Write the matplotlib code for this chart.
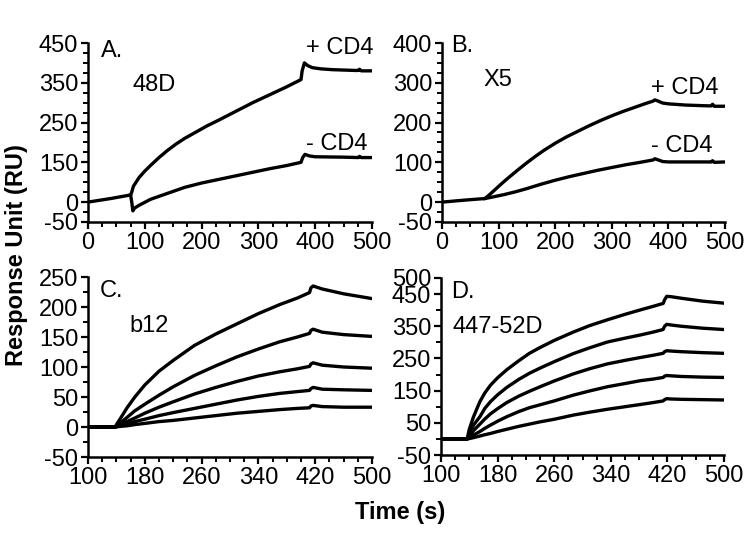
import matplotlib
matplotlib.use("Agg")
import matplotlib.pyplot as plt
from matplotlib.ticker import MultipleLocator

plt.rcParams['font.family'] = ['Liberation Sans', 'DejaVu Sans']
plt.rcParams['axes.unicode_minus'] = False

# Panel A: 48D, time (s) and response (axis units)
a_plus_t = [0, 40, 75, 77, 80, 90, 100, 110, 125, 140, 155, 170, 190, 210, 230, 260, 290, 320, 350, 375,
            377, 381, 387, 395, 410, 430, 470, 476, 478, 481, 500]
a_plus_v = [0, 9, 18, 25, 40, 62, 78, 92, 112, 130, 146, 160, 176, 192, 206, 228, 250, 270, 290, 308,
            330, 350, 343, 338, 335, 333, 331, 331, 334, 330, 330]
a_minus_t = [75, 77, 79, 82, 90, 110, 140, 170, 200, 230, 260, 290, 320, 350, 375, 378, 382, 390, 400, 450,
             476, 478, 481, 500]
a_minus_v = [18, 0, -22, -15, -8, 7, 22, 37, 48, 57, 66, 75, 84, 92, 100, 112, 120, 116, 114, 113,
             112, 115, 112, 112]

# Panel B: X5
b_plus_t = [0, 40, 76, 85, 95, 105, 118, 135, 150, 165, 180, 200, 220, 240, 260, 280, 300, 320, 340, 360,
            373, 376, 380, 390, 400, 430, 470, 476, 478, 481, 500]
b_plus_v = [0, 5, 9, 20, 33, 46, 62, 82, 99, 115, 130, 148, 164, 178, 192, 205, 217, 228, 238, 248,
            254, 257, 255, 249, 247, 244, 242, 242, 246, 241, 241]
b_minus_t = [76, 90, 110, 130, 150, 175, 200, 225, 250, 275, 300, 325, 350, 373, 376, 380, 390, 400, 470,
             476, 478, 481, 500]
b_minus_v = [9, 13, 19, 26, 34, 45, 55, 64, 72, 80, 87, 94, 100, 106, 109, 107, 102, 101, 101,
             101, 104, 100, 101]

# Panel C: b12, five concentrations
c_t = [100, 138, 145, 155, 166, 180, 200, 220, 250, 280, 310, 340, 370, 395, 412, 414, 417, 430, 460, 500]
c_curves = [
    [0, 0, 13, 32, 50, 70, 93, 111, 136, 155, 172, 189, 204, 215, 224, 232, 235, 230, 222, 214],
    [0, 0, 6, 16, 27, 38, 53, 67, 86, 102, 117, 130, 142, 150, 156, 161, 163, 158, 154, 151],
    [0, 0, 3, 9, 15, 23, 33, 42, 55, 66, 76, 85, 92, 97, 101, 105, 107, 103, 100, 98],
    [0, 0, 1.5, 5, 9, 13, 19, 24, 31, 38, 45, 51, 56, 59, 61, 64, 66, 63, 62, 61],
    [0, 0, 1, 2, 4, 6, 9, 11, 15, 19, 23, 26, 29, 31, 32, 35, 36, 34, 33, 33],
]

# Panel D: 447-52D, five concentrations
d_t = [100, 137, 140, 146, 155, 162, 170, 180, 193, 210, 225, 240, 260, 287, 310, 335, 360, 382, 400, 414,
       416, 419, 425, 440, 470, 499]
d_curves = [
    [0, 0, 30, 69, 116, 143, 167, 190, 215, 243, 266, 284, 306, 332, 352, 370, 387, 401, 412, 421,
     432, 443, 442, 437, 428, 422],
    [0, 0, 15, 43, 69, 95, 116, 137, 160, 185, 204, 220, 240, 265, 283, 301, 313, 323, 332, 340,
     350, 356, 354, 350, 344, 340],
    [0, 0, 8, 26, 46, 62, 78, 94, 113, 133, 148, 162, 180, 202, 218, 233, 244, 253, 260, 266,
     271, 274, 273, 271, 268, 266],
    [0, 0, 4, 12, 23, 33, 43, 55, 69, 85, 97, 106, 118, 136, 149, 162, 172, 181, 186, 191,
     195, 197, 196, 194, 192, 191],
    [0, 0, 1, 4, 9, 13, 17, 23, 30, 39, 46, 53, 61, 74, 83, 92, 100, 107, 113, 118,
     122, 125, 124, 123, 122, 121],
]

W, H = 750, 535
FS = 17
LW = 2.4


def make_axes(fig, left, right, top, bottom):
    ax = fig.add_axes([left / W, 1 - bottom / H, (right - left) / W, (bottom - top) / H])
    for s in ["top", "right"]:
        ax.spines[s].set_visible(False)
    for s in ["left", "bottom"]:
        ax.spines[s].set_linewidth(1.8)
    ax.tick_params(which="major", direction="out", length=5, width=1.6, labelsize=FS, pad=2)
    ax.tick_params(which="minor", direction="out", length=3.5, width=1.4)
    return ax


fig = plt.figure(figsize=(W / 100, H / 100), dpi=100)

# A
ax = make_axes(fig, 88, 372, 43, 222)
ax.plot(a_plus_t, a_plus_v, color="black", lw=LW)
ax.plot(a_minus_t, a_minus_v, color="black", lw=LW)
ax.set_xlim(0, 500)
ax.set_ylim(-50, 400)
ax.set_xticks([0, 100, 200, 300, 400, 500])
ax.set_yticks([-50, 0, 100, 200, 300, 400], ["-50", "0", "150", "250", "350", "450"])
ax.xaxis.set_minor_locator(MultipleLocator(25))
ax.yaxis.set_minor_locator(MultipleLocator(25))
ax.text(22, 380, "A.", fontsize=FS, va="center")
ax.text(79, 295, "48D", fontsize=FS, va="center")
ax.text(384, 387, "+ CD4", fontsize=FS, va="center")
ax.text(384, 147, "- CD4", fontsize=FS, va="center")

# B
ax = make_axes(fig, 442, 725, 43, 222)
ax.plot(b_plus_t, b_plus_v, color="black", lw=LW)
ax.plot(b_minus_t, b_minus_v, color="black", lw=LW)
ax.set_xlim(0, 500)
ax.set_ylim(-50, 400)
ax.set_xticks([0, 100, 200, 300, 400, 500])
ax.set_yticks([-50, 0, 100, 200, 300, 400])
ax.xaxis.set_minor_locator(MultipleLocator(25))
ax.yaxis.set_minor_locator(MultipleLocator(25))
ax.text(17, 392, "B.", fontsize=FS, va="center")
ax.text(73, 308, "X5", fontsize=FS, va="center")
ax.text(370, 286, "+ CD4", fontsize=FS, va="center")
ax.text(370, 140, "- CD4", fontsize=FS, va="center")

# C
ax = make_axes(fig, 88, 372, 277, 457)
for v in c_curves:
    ax.plot(c_t, v, color="black", lw=LW)
ax.set_xlim(100, 500)
ax.set_ylim(-50, 250)
ax.set_xticks([100, 180, 260, 340, 420, 500])
ax.set_yticks([-50, 0, 50, 100, 150, 200, 250])
ax.xaxis.set_minor_locator(MultipleLocator(20))
ax.yaxis.set_minor_locator(MultipleLocator(25))
ax.text(116, 226, "C.", fontsize=FS, va="center")
ax.text(159, 169, "b12", fontsize=FS, va="center")

# D
ax = make_axes(fig, 441, 724, 278, 455)
for v in d_curves:
    ax.plot(d_t, v, color="black", lw=LW)
ax.set_xlim(100, 500)
ax.set_ylim(-50, 500)
ax.set_xticks([100, 180, 260, 340, 420, 500])
ax.set_yticks([-50, 50, 150, 250, 350, 450, 500])
ax.xaxis.set_minor_locator(MultipleLocator(20))
ax.yaxis.set_minor_locator(MultipleLocator(50))
ax.text(115, 456, "D.", fontsize=FS, va="center")
ax.text(116, 348, "447-52D", fontsize=FS, va="center")

fig.text(17 / W, 1 - 255 / H, "Response Unit (RU)", rotation=90, ha="center", va="center",
         fontsize=FS, fontweight="bold")
fig.text(400 / W, 1 - 512 / H, "Time (s)", ha="center", va="center", fontsize=FS, fontweight="bold")

fig.savefig("out.png", dpi=100)
